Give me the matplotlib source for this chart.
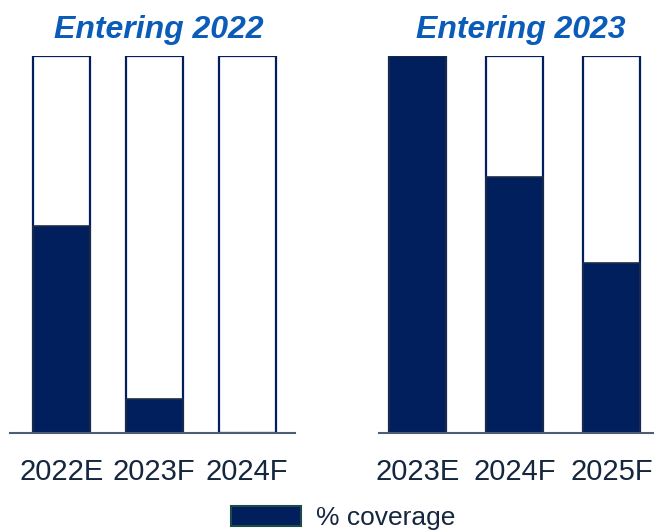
import matplotlib
matplotlib.use("Agg")
import matplotlib.pyplot as plt
from matplotlib.patches import Patch

plt.rcParams['font.family'] = ['Liberation Sans', 'DejaVu Sans']

# Hedge coverage by year (% of production)
left_title = "Entering 2022"
left_years = ["2022E", "2023F", "2024F"]
left_coverage = [55, 9, 0]

right_title = "Entering 2023"
right_years = ["2023E", "2024F", "2025F"]
right_coverage = [100, 68, 45]

legend_label = "% coverage"

NAVY = "#001f5c"
FILL_EDGE = "#1c2d48"
TEXT = "#15263f"
TITLE = "#0b5cb8"
AXIS = "#4f5d73"

W, H = 654, 531
fig = plt.figure(figsize=(W / 100, H / 100), dpi=100)


def panel(x0, x1, xlim, width, title, years, values):
    ax = fig.add_axes([x0 / W, (H - 433) / H, (x1 - x0) / W, (433 - 56) / H])
    pos = list(range(len(years)))
    # outlined full-height frame for each year
    ax.bar(pos, [100] * len(years), width=width, color="white",
           edgecolor=NAVY, linewidth=1.6, zorder=1)
    # covered portion
    ax.bar(pos, values, width=width, color=NAVY,
           edgecolor=FILL_EDGE, linewidth=1.2, zorder=2)
    ax.set_xlim(*xlim)
    ax.set_ylim(0, 100)
    ax.set_yticks([])
    ax.set_xticks(pos)
    ax.set_xticklabels(years, fontsize=21, color=TEXT)
    ax.tick_params(axis="x", length=0, pad=18)
    for s in ("top", "right", "left"):
        ax.spines[s].set_visible(False)
    ax.spines["bottom"].set_color(AXIS)
    ax.spines["bottom"].set_linewidth(1.5)
    ax.spines["bottom"].set_zorder(3)
    ax.patch.set_alpha(0)
    return ax


panel(10, 295, (-0.554, 2.516), 0.613, left_title, left_years, left_coverage)
panel(379, 654, (-0.40, 2.44), 0.59, right_title, right_years, right_coverage)

fig.text(159 / W, 1 - 30 / H, left_title, ha="center", va="center",
         fontsize=23, fontweight="bold", fontstyle="italic", color=TITLE)
fig.text(521 / W, 1 - 30 / H, right_title, ha="center", va="center",
         fontsize=23, fontweight="bold", fontstyle="italic", color=TITLE)

handle = Patch(facecolor=NAVY, edgecolor="#1f4a4a", linewidth=1.5)
fig.legend([handle], [legend_label], loc="center", bbox_to_anchor=(343 / W, 1 - 518 / H),
           frameon=False, fontsize=19, handlelength=2.65, handleheight=0.8,
           handletextpad=0.57, labelcolor=TEXT, borderaxespad=0, borderpad=0)

fig.savefig("out.png", dpi=100, facecolor="white")
